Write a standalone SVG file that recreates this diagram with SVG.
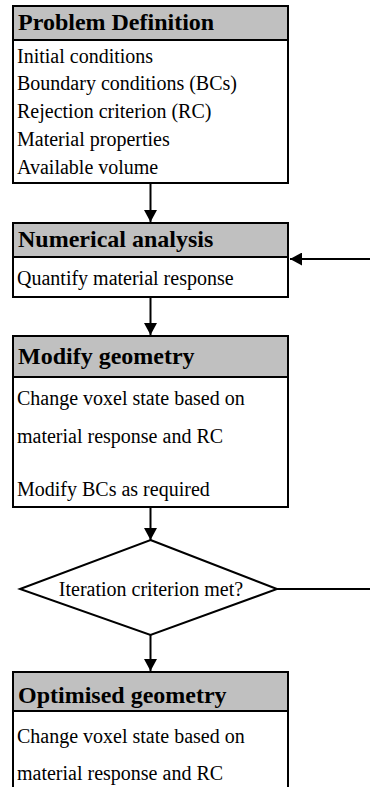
<svg xmlns="http://www.w3.org/2000/svg" width="370" height="787" viewBox="0 0 370 787">
  <defs>
    <marker id="arrow" viewBox="0 0 12 13" refX="12" refY="6.5" markerWidth="12" markerHeight="13" markerUnits="userSpaceOnUse" orient="auto">
      <path d="M0,0 L12,6.5 L0,13 Z" fill="#000"/>
    </marker>
    <style>
      .box { fill: #fff; stroke: #000; stroke-width: 2; }
      .head { fill: #c0c0c0; stroke: #000; stroke-width: 2; }
      text { font-family: 'Liberation Serif', 'DejaVu Serif', serif; fill: #000; }
      .title { font-size: 24px; font-weight: bold; }
      .body { font-size: 20px; }
      .link { fill: none; stroke: #000; stroke-width: 2; }
    </style>
  </defs>
  <rect width="370" height="787" fill="#fff"/>

  <g id="connectors">
    <line class="link" x1="150.5" y1="183" x2="150.5" y2="222" marker-end="url(#arrow)"/>
    <line class="link" x1="150.5" y1="297" x2="150.5" y2="335" marker-end="url(#arrow)"/>
    <line class="link" x1="150.5" y1="507" x2="150.5" y2="540" marker-end="url(#arrow)"/>
    <line class="link" x1="150.5" y1="635" x2="150.5" y2="671" marker-end="url(#arrow)"/>
    <!-- loop back from the decision to the analysis step; the vertical run lies just past the right edge -->
    <path class="link" d="M277,589 H378 V259 H290" marker-end="url(#arrow)"/>
  </g>

  <g id="problem-definition">
    <rect class="box" x="13" y="6" width="275" height="177"/>
    <rect class="head" x="13" y="6" width="275" height="34"/>
    <text class="title" x="18" y="30">Problem Definition</text>
    <text class="body" x="17" y="63">Initial conditions</text>
    <text class="body" x="17" y="90">Boundary conditions (BCs)</text>
    <text class="body" x="17" y="118">Rejection criterion (RC)</text>
    <text class="body" x="17" y="146">Material properties</text>
    <text class="body" x="17" y="174">Available volume</text>
  </g>

  <g id="numerical-analysis">
    <rect class="box" x="13" y="223" width="275" height="74"/>
    <rect class="head" x="13" y="223" width="275" height="34"/>
    <text class="title" x="18" y="247">Numerical analysis</text>
    <text class="body" x="17" y="285">Quantify material response</text>
  </g>

  <g id="modify-geometry">
    <rect class="box" x="13" y="336" width="275" height="171"/>
    <rect class="head" x="13" y="336" width="275" height="41"/>
    <text class="title" x="18" y="364">Modify geometry</text>
    <text class="body" x="17" y="405">Change voxel state based on</text>
    <text class="body" x="17" y="443">material response and RC</text>
    <text class="body" x="17" y="496">Modify BCs as required</text>
  </g>

  <g id="iteration-check">
    <polygon class="box" points="150.5,540 277,589 150.5,635 20,589"/>
    <text class="body" x="151" y="596" text-anchor="middle">Iteration criterion met?</text>
  </g>

  <g id="optimised-geometry">
    <rect class="box" x="13" y="672" width="275" height="130"/>
    <rect class="head" x="13" y="672" width="275" height="39"/>
    <text class="title" x="18" y="703">Optimised geometry</text>
    <text class="body" x="17" y="743">Change voxel state based on</text>
    <text class="body" x="17" y="780">material response and RC</text>
  </g>
</svg>
